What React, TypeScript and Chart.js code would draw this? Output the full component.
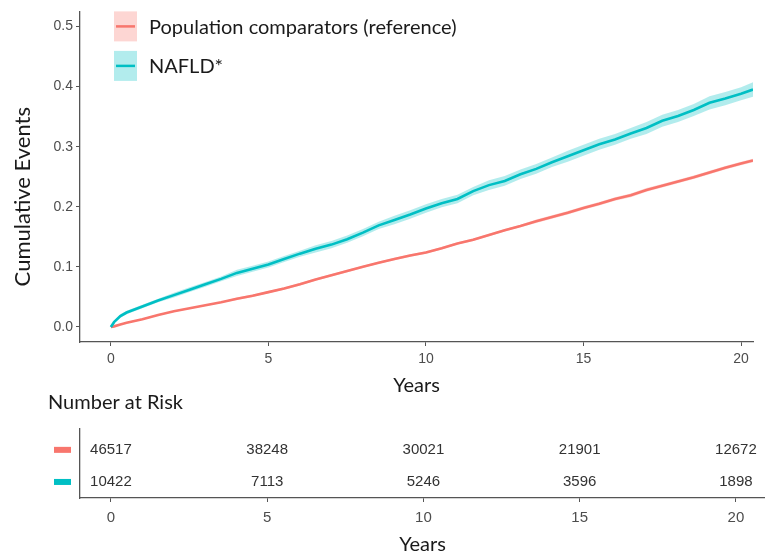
import React, { useEffect, useRef } from "react";
import { Chart, registerables } from "chart.js";

Chart.register(...registerables);
Chart.defaults.font.family = "'Liberation Sans', Arial, sans-serif";

// ---- data ----
const years = [0, 0.1, 0.3, 0.5, 1, 1.5, 2, 2.5, 3, 3.5, 4, 4.5, 5, 5.5, 6, 6.5, 7, 7.5, 8, 8.5, 9, 9.5, 10, 10.5, 11, 11.5, 12, 12.5, 13, 13.5, 14, 14.5, 15, 15.5, 16, 16.5, 17, 17.5, 18, 18.5, 19, 19.5, 20, 20.38];

const refCum = [0, 0.001, 0.004, 0.007, 0.013, 0.02, 0.026, 0.031, 0.036, 0.041, 0.047, 0.052, 0.058, 0.064, 0.071, 0.079, 0.086, 0.093, 0.1, 0.107, 0.113, 0.119, 0.124, 0.131, 0.139, 0.145, 0.153, 0.161, 0.168, 0.176, 0.183, 0.19, 0.198, 0.205, 0.213, 0.219, 0.228, 0.235, 0.242, 0.249, 0.257, 0.265, 0.272, 0.277];
const refLow = [0, 0.0, 0.003, 0.006, 0.012, 0.019, 0.025, 0.03, 0.035, 0.04, 0.045, 0.05, 0.056, 0.062, 0.069, 0.077, 0.084, 0.091, 0.098, 0.105, 0.111, 0.117, 0.122, 0.129, 0.137, 0.143, 0.151, 0.159, 0.166, 0.173, 0.18, 0.187, 0.195, 0.202, 0.21, 0.216, 0.225, 0.232, 0.239, 0.246, 0.254, 0.262, 0.269, 0.274];
const refHigh = [0, 0.002, 0.005, 0.008, 0.014, 0.021, 0.027, 0.032, 0.037, 0.042, 0.049, 0.054, 0.06, 0.066, 0.073, 0.081, 0.088, 0.095, 0.102, 0.109, 0.115, 0.121, 0.126, 0.133, 0.141, 0.147, 0.155, 0.163, 0.17, 0.179, 0.186, 0.193, 0.201, 0.208, 0.216, 0.222, 0.231, 0.238, 0.245, 0.252, 0.26, 0.268, 0.275, 0.28];

const nafldCum = [0, 0.008, 0.018, 0.024, 0.034, 0.044, 0.053, 0.062, 0.071, 0.08, 0.09, 0.097, 0.104, 0.113, 0.122, 0.13, 0.137, 0.146, 0.157, 0.169, 0.178, 0.187, 0.197, 0.206, 0.213, 0.226, 0.236, 0.243, 0.254, 0.263, 0.274, 0.284, 0.294, 0.304, 0.312, 0.322, 0.331, 0.343, 0.351, 0.361, 0.373, 0.38, 0.388, 0.395];
const nafldLow = [0, 0.006, 0.015, 0.021, 0.031, 0.041, 0.049, 0.058, 0.067, 0.076, 0.085, 0.092, 0.099, 0.108, 0.117, 0.124, 0.131, 0.14, 0.151, 0.163, 0.171, 0.18, 0.19, 0.199, 0.206, 0.219, 0.228, 0.235, 0.246, 0.255, 0.266, 0.275, 0.285, 0.295, 0.303, 0.313, 0.321, 0.333, 0.341, 0.351, 0.362, 0.369, 0.377, 0.383];
const nafldHigh = [0, 0.01, 0.021, 0.027, 0.037, 0.047, 0.057, 0.066, 0.075, 0.084, 0.095, 0.102, 0.109, 0.118, 0.127, 0.136, 0.143, 0.152, 0.163, 0.175, 0.185, 0.194, 0.204, 0.213, 0.22, 0.233, 0.244, 0.251, 0.262, 0.271, 0.282, 0.293, 0.303, 0.313, 0.321, 0.331, 0.341, 0.353, 0.361, 0.371, 0.384, 0.391, 0.399, 0.407];

const xTicks = [0, 5, 10, 15, 20];
const yTicks = [0, 0.1, 0.2, 0.3, 0.4, 0.5];
const groupNames = ["Population comparators (reference)", "NAFLD*"];
const groupColors = ["#F8766D", "#00BFC4"];
const groupBands = ["rgba(248,118,109,0.3)", "rgba(0,191,196,0.3)"];

const riskTimes = [0, 5, 10, 15, 20];
const riskRef = [46517, 38248, 30021, 21901, 12672];
const riskNafld = [10422, 7113, 5246, 3596, 1898];

const yTitle = "Cumulative Events";
const xTitle = "Years";
const riskTitle = "Number at Risk";

const pts = (arr: number[]) => years.map((x, i) => ({ x, y: arr[i] }));

const TITLE_FONT = "Lato, 'Open Sans', sans-serif";
const AXIS_COLOR = "#555555";
const TICK_COLOR = "#4d4d4d";

const mainDecor = {
  id: "mainDecor",
  afterDraw(chart: any) {
    const ctx = chart.ctx;
    const a = chart.chartArea;
    ctx.save();
    // y axis title
    ctx.translate(23, (a.top + a.bottom) / 2 + 20);
    ctx.rotate(-Math.PI / 2);
    ctx.font = `22px ${TITLE_FONT}`;
    ctx.fillStyle = "#1a1a1a";
    ctx.textAlign = "center";
    ctx.textBaseline = "middle";
    ctx.fillText(yTitle, 0, 0);
    ctx.restore();

    // legend inside panel
    ctx.save();
    const bx = a.left + 34;
    groupNames.forEach((name, i) => {
      const by = a.top + i * 39.5;
      ctx.fillStyle = groupBands[i];
      ctx.fillRect(bx, by, 23, 30);
      ctx.strokeStyle = groupColors[i];
      ctx.lineWidth = 2.5;
      ctx.beginPath();
      ctx.moveTo(bx + 2, by + 15);
      ctx.lineTo(bx + 21, by + 15);
      ctx.stroke();
      ctx.fillStyle = "#1a1a1a";
      ctx.font = `20px ${TITLE_FONT}`;
      ctx.textAlign = "left";
      ctx.textBaseline = "middle";
      ctx.fillText(name, bx + 35, by + 16);
    });
    ctx.restore();
  },
};

const riskDecor = {
  id: "riskDecor",
  afterDatasetsDraw(chart: any) {
    const ctx = chart.ctx;
    ctx.save();
    chart.data.datasets.forEach((ds: any, di: number) => {
      const meta = chart.getDatasetMeta(di);
      ctx.font = "15px 'Liberation Sans', Arial, sans-serif";
      ctx.fillStyle = "#333333";
      ctx.textAlign = "center";
      ctx.textBaseline = "middle";
      meta.data.forEach((el: any, i: number) => {
        ctx.fillText(String(ds.counts[i]), el.x, el.y);
      });
      const y0 = meta.data[0].y;
      ctx.fillStyle = groupColors[di];
      ctx.fillRect(54, y0 - 3, 17, 6);
    });
    ctx.restore();
  },
};

export default function App() {
  const mainRef = useRef<HTMLCanvasElement | null>(null);
  const riskRef2 = useRef<HTMLCanvasElement | null>(null);

  useEffect(() => {
    document.body.style.margin = "0";
    const tickFont = { family: "'Liberation Sans', Arial, sans-serif", size: 14 };

    const main = new Chart(mainRef.current as HTMLCanvasElement, {
      type: "line",
      data: {
        datasets: [
          { label: groupNames[1], data: pts(nafldCum), borderColor: groupColors[1], borderWidth: 2.6, pointRadius: 0, fill: false, tension: 0 },
          { label: groupNames[0], data: pts(refCum), borderColor: groupColors[0], borderWidth: 2.6, pointRadius: 0, fill: false, tension: 0 },
          { label: "nafld high", data: pts(nafldHigh), borderWidth: 0, borderColor: "rgba(0,0,0,0)", pointRadius: 0, fill: "+1", backgroundColor: groupBands[1] },
          { label: "nafld low", data: pts(nafldLow), borderWidth: 0, borderColor: "rgba(0,0,0,0)", pointRadius: 0, fill: false },
          { label: "ref high", data: pts(refHigh), borderWidth: 0, borderColor: "rgba(0,0,0,0)", pointRadius: 0, fill: "+1", backgroundColor: groupBands[0] },
          { label: "ref low", data: pts(refLow), borderWidth: 0, borderColor: "rgba(0,0,0,0)", pointRadius: 0, fill: false },
        ],
      },
      options: {
        animation: false,
        responsive: false,
        maintainAspectRatio: false,
        layout: { padding: { top: 7, right: 12, left: 0, bottom: 0 } },
        plugins: { legend: { display: false }, tooltip: { enabled: false } },
        scales: {
          x: {
            type: "linear",
            min: -0.98,
            max: 20.38,
            afterBuildTicks: (s: any) => { s.ticks = xTicks.map((v) => ({ value: v })); },
            afterFit: (s: any) => { s.height = 56; },
            grid: { drawOnChartArea: false, drawTicks: true, tickLength: 4, color: AXIS_COLOR, lineWidth: 1 },
            border: { display: true, color: AXIS_COLOR, width: 1.3 },
            ticks: { font: tickFont, color: TICK_COLOR, padding: 5, maxRotation: 0, autoSkip: false },
            title: { display: true, text: xTitle, color: "#1a1a1a", font: { family: TITLE_FONT, size: 20, lineHeight: 1 }, padding: { top: 0, bottom: 2 } },
          },
          y: {
            type: "linear",
            min: -0.025,
            max: 0.525,
            afterBuildTicks: (s: any) => { s.ticks = yTicks.map((v) => ({ value: v })); },
            afterFit: (s: any) => { s.width = 80; },
            grid: { drawOnChartArea: false, drawTicks: true, tickLength: 4, color: AXIS_COLOR, lineWidth: 1 },
            border: { display: true, color: AXIS_COLOR, width: 1.3 },
            ticks: { font: tickFont, color: TICK_COLOR, padding: 3, callback: (v: any) => Number(v).toFixed(1) },
          },
        },
      } as any,
      plugins: [mainDecor],
    });

    const risk = new Chart(riskRef2.current as HTMLCanvasElement, {
      type: "scatter",
      data: {
        datasets: [
          { label: groupNames[0], data: riskTimes.map((t) => ({ x: t, y: 2 })), counts: riskRef, pointRadius: 0 } as any,
          { label: groupNames[1], data: riskTimes.map((t) => ({ x: t, y: 1 })), counts: riskNafld, pointRadius: 0 } as any,
        ],
      },
      options: {
        animation: false,
        responsive: false,
        maintainAspectRatio: false,
        layout: { padding: { top: 0, right: 0, left: 48, bottom: 0 } },
        plugins: {
          legend: { display: false },
          tooltip: { enabled: false },
          title: {
            display: true,
            text: riskTitle,
            align: "start",
            color: "#1a1a1a",
            font: { family: TITLE_FONT, size: 20, weight: "normal", lineHeight: 1.2 },
            padding: { top: 1, bottom: 14 },
          },
        },
        scales: {
          x: {
            type: "linear",
            min: -0.99,
            max: 20.93,
            afterBuildTicks: (s: any) => { s.ticks = xTicks.map((v) => ({ value: v })); },
            afterFit: (s: any) => { s.height = 57; },
            grid: { drawOnChartArea: false, drawTicks: true, tickLength: 4, color: AXIS_COLOR, lineWidth: 1 },
            border: { display: true, color: AXIS_COLOR, width: 1.3 },
            ticks: { font: { ...tickFont, size: 15 }, color: TICK_COLOR, padding: 7, maxRotation: 0, autoSkip: false },
            title: { display: true, text: xTitle, color: "#1a1a1a", font: { family: TITLE_FONT, size: 20, lineHeight: 1 }, padding: { top: 0, bottom: 0 } },
          },
          y: {
            type: "linear",
            min: 0.5,
            max: 2.65,
            afterFit: (s: any) => { s.width = 32; },
            grid: { display: false },
            border: { display: true, color: AXIS_COLOR, width: 1.3 },
            ticks: { display: false },
          },
        },
      } as any,
      plugins: [riskDecor],
    });

    return () => {
      main.destroy();
      risk.destroy();
    };
  }, []);

  return (
    <div style={{ position: "relative", width: 765, height: 555, overflow: "hidden", background: "#ffffff" }}>
      <canvas ref={mainRef} width={765} height={398} style={{ position: "absolute", left: 0, top: 0, width: 765, height: 398 }} />
      <canvas ref={riskRef2} width={765} height={165} style={{ position: "absolute", left: 0, top: 390, width: 765, height: 165 }} />
    </div>
  );
}
